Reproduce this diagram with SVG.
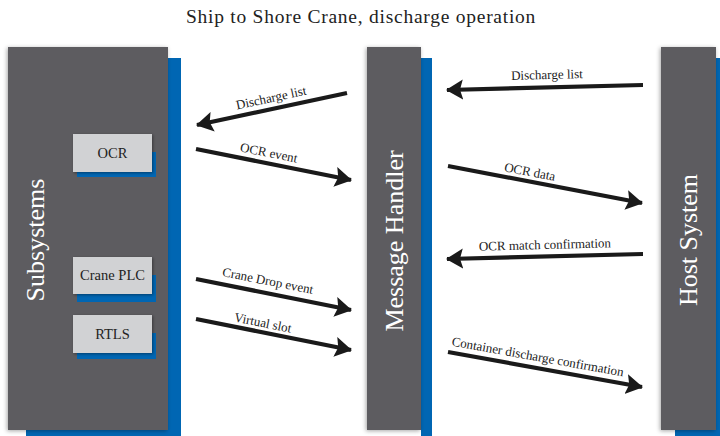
<svg xmlns="http://www.w3.org/2000/svg" width="720" height="436" viewBox="0 0 720 436">
<defs>
<style>
.gray{fill:#5d5c61}
.blue{fill:#0066b3}
.box{fill:#d1d2d4}
.title{font-family:"Liberation Serif",serif;font-size:19.5px;letter-spacing:0.75px;fill:#222}
.big{font-family:"Liberation Serif",serif;font-size:26px;fill:#ffffff;text-anchor:middle}
.bl{font-family:"Liberation Serif",serif;font-size:14.5px;fill:#222;text-anchor:middle}
.lbl{font-family:"Liberation Serif",serif;font-size:13px;fill:#222;text-anchor:middle}
.ar{stroke:#1a1a1a;stroke-width:4.2;fill:none;marker-end:url(#ah)}
</style>
<marker id="ah" markerUnits="userSpaceOnUse" markerWidth="18" markerHeight="22" refX="16" refY="11" orient="auto" viewBox="0 0 18 22">
<path d="M0,1 L17,11 L0,21 L3,11 Z" fill="#1a1a1a"/>
</marker>
<filter id="sh" x="-20%" y="-10%" width="140%" height="120%">
<feDropShadow dx="-1" dy="1" stdDeviation="2" flood-color="#000" flood-opacity="0.35"/>
</filter>
<filter id="sh2" x="-20%" y="-20%" width="140%" height="140%">
<feDropShadow dx="1" dy="1" stdDeviation="1.5" flood-color="#000" flood-opacity="0.4"/>
</filter>
</defs>
<rect width="720" height="436" fill="#ffffff"/>
<text class="title" x="361" y="23" text-anchor="middle">Ship to Shore Crane, discharge operation</text>

<g id="subsystems">
<rect class="blue" x="26" y="58" width="155" height="380"/>
<rect class="gray" x="8" y="47" width="160" height="383" filter="url(#sh)"/>
<text class="big" transform="translate(44,240) rotate(-90)">Subsystems</text>
</g>
<g id="ocr">
<rect class="blue" x="77" y="152" width="79" height="25"/>
<rect class="box" x="73" y="134" width="79" height="38" filter="url(#sh2)"/>
<text class="bl" x="112.5" y="158">OCR</text>
</g>
<g id="crane-plc">
<rect class="blue" x="77" y="275" width="79" height="27"/>
<rect class="box" x="73" y="257" width="79" height="37" filter="url(#sh2)"/>
<text class="bl" x="112.5" y="280">Crane PLC</text>
</g>
<g id="rtls">
<rect class="blue" x="77" y="333" width="79" height="26"/>
<rect class="box" x="73" y="315" width="79" height="38" filter="url(#sh2)"/>
<text class="bl" x="112.5" y="339">RTLS</text>
</g>
<g id="message-handler">
<rect class="blue" x="421" y="58" width="11" height="380"/>
<rect class="gray" x="367" y="47" width="54" height="383" filter="url(#sh)"/>
<text class="big" transform="translate(403,241) rotate(-90)">Message Handler</text>
</g>
<g id="host-system">
<rect class="blue" x="675" y="58" width="50" height="380"/>
<rect class="gray" x="661" y="47" width="55" height="383" filter="url(#sh)"/>
<text class="big" transform="translate(697,240) rotate(-90)">Host System</text>
</g>

<g id="connectors">
<line class="ar" x1="347" y1="93" x2="197" y2="125"/>
<text class="lbl" transform="translate(272,102) rotate(-12)">Discharge list</text>
<line class="ar" x1="196" y1="149" x2="351" y2="180"/>
<text class="lbl" transform="translate(268,157) rotate(11.3)">OCR event</text>
<line class="ar" x1="196" y1="279" x2="351" y2="310"/>
<text class="lbl" transform="translate(267,285) rotate(11.3)">Crane Drop event</text>
<line class="ar" x1="196" y1="319" x2="351" y2="350"/>
<text class="lbl" transform="translate(262,327) rotate(11.3)">Virtual slot</text>
<line class="ar" x1="643" y1="85" x2="447" y2="90"/>
<text class="lbl" transform="translate(547,79) rotate(-1.5)">Discharge list</text>
<line class="ar" x1="448" y1="166" x2="642" y2="203"/>
<text class="lbl" transform="translate(529,176) rotate(10.8)">OCR data</text>
<line class="ar" x1="643" y1="254" x2="447" y2="259"/>
<text class="lbl" transform="translate(545,249) rotate(-1.5)">OCR match confirmation</text>
<line class="ar" x1="448" y1="352" x2="642" y2="387"/>
<text class="lbl" transform="translate(537,361) rotate(10.2)">Container discharge confirmation</text>
</g>
</svg>
